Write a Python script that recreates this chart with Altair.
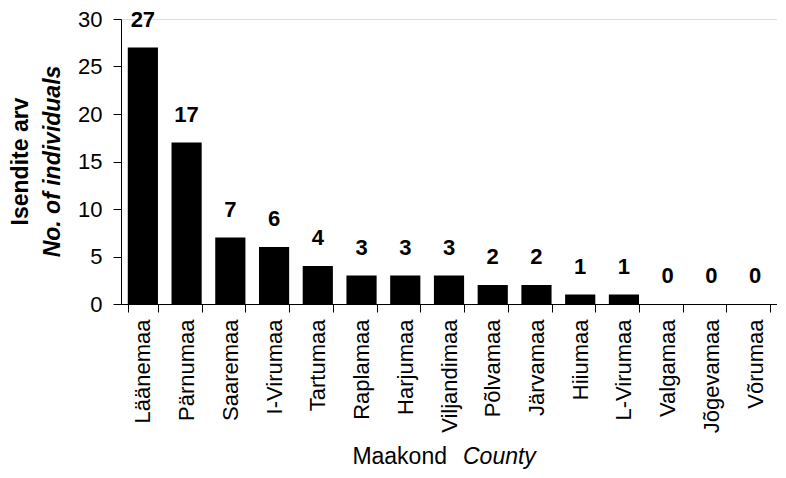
import altair as alt
import pandas as pd

counties = ["Läänemaa", "Pärnumaa", "Saaremaa", "I-Virumaa", "Tartumaa", "Raplamaa",
            "Harjumaa", "Viljandimaa", "Põlvamaa", "Järvamaa", "Hiiumaa", "L-Virumaa",
            "Valgamaa", "Jõgevamaa", "Võrumaa"]
counts = [27, 17, 7, 6, 4, 3, 3, 3, 2, 2, 1, 1, 0, 0, 0]
y_ticks = [0, 5, 10, 15, 20, 25, 30]

df = pd.DataFrame({"county": counties, "n": counts})

W, H = 656, 285
FONT = "Liberation Sans"

x_enc = alt.X("county:N", sort=counties, title=None,
              scale=alt.Scale(paddingInner=0.31, paddingOuter=0.155),
              axis=alt.Axis(labelAngle=-90, labelAlign="right", labelBaseline="middle",
                            labelFontSize=22, labelColor="black", labelPadding=7,
                            tickBand="extent", tickSize=8, tickColor="black",
                            domainColor="black", labelFont=FONT))
y_enc = alt.Y("n:Q", title=None,
              scale=alt.Scale(domain=[0, 30], nice=False),
              axis=alt.Axis(values=y_ticks, labelFontSize=22, labelColor="black",
                            labelPadding=11, tickSize=8, tickColor="black",
                            domainColor="black", grid=False, labelFont=FONT))

base = alt.Chart(df)
bars = base.mark_bar(color="black").encode(x=x_enc, y=y_enc)
labels = base.mark_text(font=FONT, fontSize=22, fontWeight="bold", baseline="bottom",
                        dy=-16, color="black").encode(
    x=alt.X("county:N", sort=counties), y="n:Q", text="n:Q")

title_df = pd.DataFrame({"t": [0]})
tb = alt.Chart(title_df)
yt1 = tb.mark_text(font=FONT, fontSize=23, fontWeight="bold", angle=270,
                   align="center", baseline="middle", color="black").encode(
    x=alt.value(-100), y=alt.value(H / 2), text=alt.value("Isendite arv"))
yt2 = tb.mark_text(font=FONT, fontSize=23, fontWeight="bold", fontStyle="italic", angle=270,
                   align="center", baseline="middle", color="black").encode(
    x=alt.value(-68), y=alt.value(H / 2), text=alt.value("No. of individuals"))
xt1 = tb.mark_text(font=FONT, fontSize=23, align="right", baseline="alphabetic",
                   color="black").encode(
    x=alt.value(W / 2 - 2), y=alt.value(445), text=alt.value("Maakond"))
xt2 = tb.mark_text(font=FONT, fontSize=23, fontStyle="italic", align="left",
                   baseline="alphabetic", color="black").encode(
    x=alt.value(W / 2 + 14), y=alt.value(445), text=alt.value("County"))

chart = alt.layer(bars, labels, yt1, yt2, xt1, xt2).properties(
    width=W, height=H,
    autosize=alt.AutoSizeParams(type="none"),
    padding={"left": 113, "top": 11, "right": 0, "bottom": 166},
).configure_view(stroke=None).configure(background="white")

chart.save("out.html", embed_options={"renderer": "svg", "actions": False})
